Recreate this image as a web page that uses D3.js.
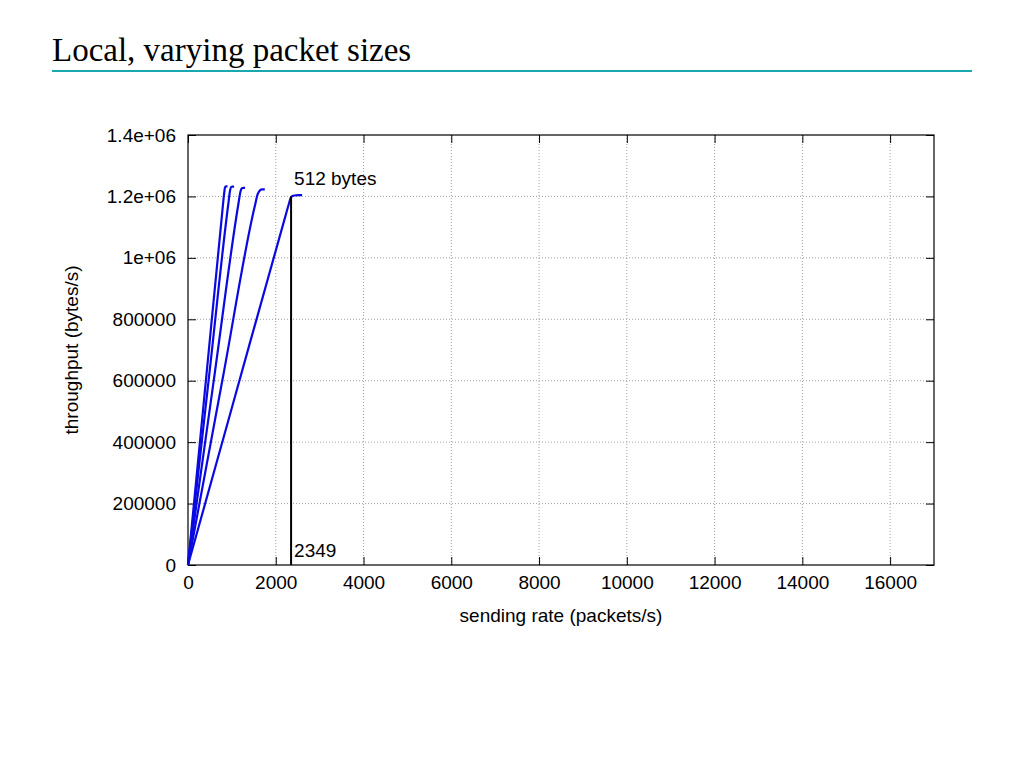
<!DOCTYPE html>
<html><head><meta charset="utf-8">
<script src="https://cdn.jsdelivr.net/npm/d3@7"></script>
<style>body{margin:0;background:#fff}</style>
</head><body>
<svg id="c" width="1024" height="768"></svg>
<script>
const title = "Local, varying packet sizes";
const xTicks = [0,2000,4000,6000,8000,10000,12000,14000,16000];
const yTicks = [0,200000,400000,600000,800000,1000000,1200000,1400000];
const yTickLabels = ["0","200000","400000","600000","800000","1e+06","1.2e+06","1.4e+06"];
// series: sending rate (packets/s) vs throughput (bytes/s)
const s1472 = [[0,0],[400,588800],[780,1148000],[820,1205000],[845,1230000],[870,1233000],[900,1233000]];
const s1280 = [[0,0],[500,640000],[920,1177000],[960,1220000],[985,1231000],[1010,1232000],[1050,1232000]];
const s1024 = [[0,0],[600,614400],[1150,1177000],[1195,1215000],[1225,1226000],[1260,1228000],[1300,1228000]];
const s768  = [[0,0],[800,614400],[1520,1167000],[1590,1208000],[1640,1220000],[1690,1223000],[1750,1223000]];
const s512  = [[0,0],[1000,512000],[2220,1136000],[2300,1176000],[2349,1198000],[2420,1203000],[2520,1204000],[2600,1204000]];
const series = [s1472, s1280, s1024, s768, s512];
const markerX = 2349, markerY = 1200000;
const markerLabel = "2349", seriesLabel = "512 bytes";

const svg = d3.select("#c");
const L=188, R=934, T=135, B=565;
const x = d3.scaleLinear().domain([0,17000]).range([L,R]);
const y = d3.scaleLinear().domain([0,1400000]).range([B,T]);
const sans = "'Liberation Sans', Arial, Helvetica, sans-serif";
const fs = 19;

svg.append("text").attr("x",52).attr("y",61).attr("font-family","'Liberation Serif','Times New Roman',serif")
  .attr("font-size",33).attr("fill","#000").text(title);
svg.append("line").attr("x1",52).attr("x2",972).attr("y1",71).attr("y2",71).attr("stroke","#1aa8b0").attr("stroke-width",2);

// grid
const g = svg.append("g");
g.selectAll(".gx").data(xTicks.filter(d=>d>0)).join("line")
  .attr("x1",d=>x(d)).attr("x2",d=>x(d)).attr("y1",B).attr("y2",T)
  .attr("stroke","#888").attr("stroke-width",0.8).attr("stroke-dasharray","1,2");
g.selectAll(".gy").data(yTicks.filter(d=>d>0 && d<1400000)).join("line")
  .attr("x1",L).attr("x2",R).attr("y1",d=>y(d)).attr("y2",d=>y(d))
  .attr("stroke","#888").attr("stroke-width",0.8).attr("stroke-dasharray","1,2");

// axes with inward ticks (mirrored)
const tl = 8;
const ax = svg.append("g").attr("transform",`translate(0,${B})`)
  .call(d3.axisBottom(x).tickValues(xTicks).tickSize(-tl).tickPadding(11).tickFormat(d3.format("d")));
const axT = svg.append("g").attr("transform",`translate(0,${T})`)
  .call(d3.axisTop(x).tickValues(xTicks).tickSize(-tl).tickFormat(""));
const ay = svg.append("g").attr("transform",`translate(${L},0)`)
  .call(d3.axisLeft(y).tickValues(yTicks).tickSize(-tl).tickPadding(12).tickFormat((d,i)=>yTickLabels[i]));
const ayR = svg.append("g").attr("transform",`translate(${R},0)`)
  .call(d3.axisRight(y).tickValues(yTicks).tickSize(-tl).tickFormat(""));
[ax,axT,ay,ayR].forEach(a=>{
  a.select(".domain").remove();
  a.selectAll("line").attr("stroke","#000").attr("stroke-width",1);
  a.selectAll("text").attr("font-family",sans).attr("font-size",fs).attr("fill","#000");
});
svg.append("rect").attr("x",L).attr("y",T).attr("width",R-L).attr("height",B-T)
  .attr("fill","none").attr("stroke","#000").attr("stroke-width",1.2);

// series
const line = d3.line().x(d=>x(d[0])).y(d=>y(d[1])).curve(d3.curveMonotoneX);
svg.append("g").selectAll("path").data(series).join("path")
  .attr("d",line).attr("fill","none").attr("stroke","#0a0ae0").attr("stroke-width",2.2);

// marker
svg.append("line").attr("x1",x(markerX)).attr("x2",x(markerX)).attr("y1",y(0)).attr("y2",y(markerY))
  .attr("stroke","#000").attr("stroke-width",2);
svg.append("text").attr("x",x(markerX)+3).attr("y",y(0)-8).attr("font-family",sans).attr("font-size",fs).text(markerLabel);
svg.append("text").attr("x",x(markerX)+3).attr("y",185).attr("font-family",sans).attr("font-size",fs).text(seriesLabel);

// axis labels
svg.append("text").attr("x",561).attr("y",622).attr("text-anchor","middle").attr("font-family",sans).attr("font-size",fs).text("sending rate (packets/s)");
svg.append("text").attr("transform","translate(78,350) rotate(-90)").attr("text-anchor","middle").attr("font-family",sans).attr("font-size",fs).text("throughput (bytes/s)");
</script>
</body></html>
